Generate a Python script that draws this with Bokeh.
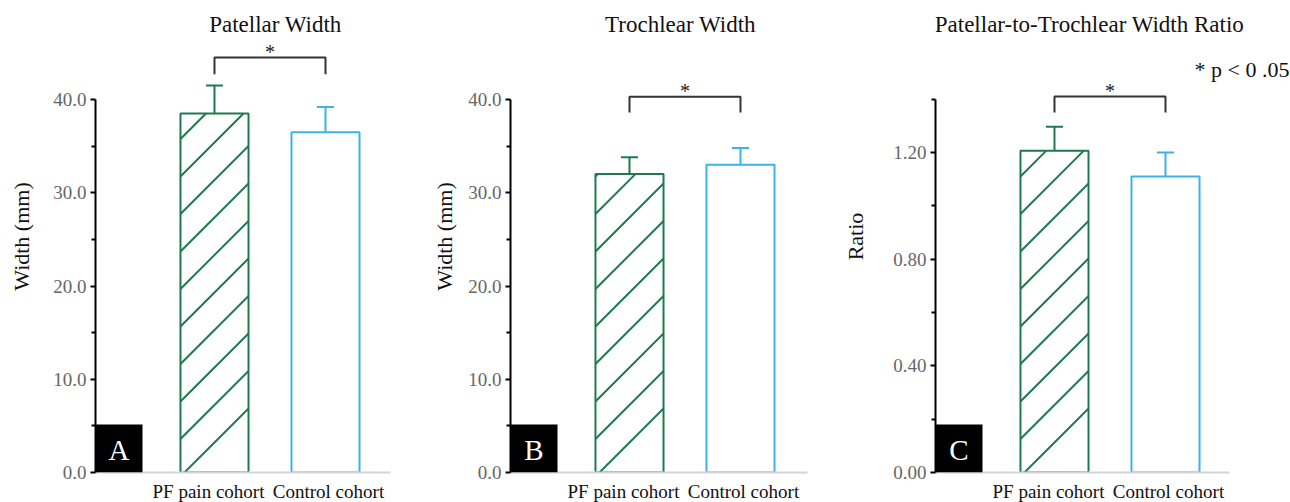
from bokeh.plotting import figure
from bokeh.layouts import row
from bokeh.models import (Range1d, FixedTicker, PrintfTickFormatter, Whisker, TeeHead,
                          Label, BoxAnnotation, ColumnDataSource)
from bokeh.embed import file_html
from bokeh.resources import INLINE
from bokeh.core.properties import value

# ---------------- data ----------------
categories = ["PF pain cohort", "Control cohort"]
panel_letters = ["A", "B", "C"]
panel_titles = ["Patellar Width", "Trochlear Width", "Patellar-to-Trochlear Width Ratio"]
y_labels = ["Width (mm)", "Width (mm)", "Ratio"]

patellar_mean = [38.5, 36.5]
patellar_err = [3.0, 2.7]
trochlear_mean = [32.0, 33.0]
trochlear_err = [1.8, 1.8]
ratio_mean = [1.207, 1.11]
ratio_err = [0.09, 0.09]

bracket_top = [44.5, 40.3, 1.41]
bracket_drop = [42.7, 38.6, 1.35]

y_major = [[0, 10, 20, 30, 40], [0, 10, 20, 30, 40], [0, 0.4, 0.8, 1.2]]
y_minor = [[5, 15, 25, 35], [5, 15, 25, 35], [0.2, 0.6, 1.0, 1.4]]
y_axis_max = [40, 40, 1.4]
y_view_max = [50.62, 50.62, 1.770]
y_fmt = ["%.1f", "%.1f", "%.2f"]
note_text = "* p < 0 .05"

# ---------------- style ----------------
GREEN = "#1e7a4c"
BLUE = "#3bb3e8"
FONT = "Liberation Serif"
bar_colors = [GREEN, BLUE]
bar_hatched = [True, False]
HATCH_GAP = 37.5     # px between hatch lines (vertical)
HATCH_C0 = -4.0      # px offset of first hatch line
BAR_W = 0.613

# per panel: (left border, frame width, title centre from axis, y label standoff, baseline px)
layouts = [(95, 330, 180, 16, 295), (85, 330, 170, 8, 297), (93, 357, 154, 22, 294)]
X0 = -0.072
UNIT = 111.0
FRAME_H = 472
means_all = [patellar_mean, trochlear_mean, ratio_mean]
errs_all = [patellar_err, trochlear_err, ratio_err]


def hatch_segments(xc, top, ky):
    """45-degree hatch lines clipped to a bar (pattern geometry in pixels -> data)."""
    W = BAR_W * UNIT
    H = top * ky
    x0s, y0s, x1s, y1s = [], [], [], []
    c = HATCH_C0
    while c < H:
        a = max(0.0, -c)
        b = min(W, H - c)
        if b > a:
            xl = xc - BAR_W / 2
            x0s.append(xl + a / UNIT); y0s.append((a + c) / ky)
            x1s.append(xl + b / UNIT); y1s.append((b + c) / ky)
        c += HATCH_GAP
    return x0s, y0s, x1s, y1s


plots = []
for i in range(3):
    lb, fw, tcx, lstand, base_px = layouts[i]
    means = means_all[i]
    errs = errs_all[i]
    xs = [1, 2]
    label_pos = [0.946, 2.027]
    ky = FRAME_H / y_view_max[i]
    p = figure(frame_width=fw, frame_height=FRAME_H,
               x_range=Range1d(X0, X0 + fw / UNIT),
               y_range=Range1d(0, y_view_max[i]), output_backend="svg",
               toolbar_location=None, min_border_left=lb, min_border_right=0,
               min_border_top=0, min_border_bottom=30)
    p.outline_line_color = None
    p.grid.visible = False
    p.background_fill_color = "white"
    p.border_fill_color = "white"

    # hatch lines for the hatched (PF pain) bar
    hx0, hy0, hx1, hy1 = [], [], [], []
    for j in range(2):
        if bar_hatched[j]:
            a, b, c, d = hatch_segments(xs[j], means[j], ky)
            hx0 += a; hy0 += b; hx1 += c; hy1 += d
    p.segment(x0=hx0, y0=hy0, x1=hx1, y1=hy1, line_color=GREEN, line_width=2)

    src = ColumnDataSource(dict(x=xs, top=means, color=bar_colors))
    p.vbar(x="x", top="top", width=BAR_W, source=src, fill_color=None,
           line_color="color", line_width=2)

    for j in range(2):
        wsrc = ColumnDataSource(dict(base=[xs[j]], lower=[means[j]], upper=[means[j] + errs[j]]))
        wh = Whisker(source=wsrc, base="base", upper="upper", lower="lower",
                     line_color=bar_colors[j], line_width=2,
                     upper_head=TeeHead(size=17, line_color=bar_colors[j], line_width=2),
                     lower_head=None)
        p.add_layout(wh)

    # significance bracket
    p.multi_line(xs=[[1, 1, 2, 2]],
                 ys=[[bracket_drop[i], bracket_top[i], bracket_top[i], bracket_drop[i]]],
                 line_color="#333333", line_width=2)
    p.text(x=[1.5], y=[bracket_top[i]], text=["*"], text_align="center",
           text_baseline="bottom", text_font=value(FONT), text_font_size="20px",
           text_color="#222222", y_offset=5)

    # axes
    ya = p.yaxis[0]
    ya.ticker = FixedTicker(ticks=y_major[i], minor_ticks=y_minor[i])
    ya.formatter = PrintfTickFormatter(format=y_fmt[i])
    ya.bounds = (0, y_axis_max[i])
    ya.axis_line_color = "black"
    ya.axis_line_width = 2
    ya.major_tick_line_color = "black"
    ya.major_tick_line_width = 2
    ya.major_tick_out = 5
    ya.major_tick_in = 0
    ya.minor_tick_line_color = "black"
    ya.minor_tick_line_width = 2
    ya.minor_tick_out = 4
    ya.minor_tick_in = 0
    ya.major_label_text_font = FONT
    ya.major_label_text_font_size = "19px"
    ya.major_label_text_color = "#666666"
    ya.major_label_standoff = 4
    ya.axis_label = y_labels[i]
    ya.axis_label_text_font = FONT
    ya.axis_label_text_font_size = "22px"
    ya.axis_label_text_font_style = "normal"
    ya.axis_label_text_color = "#111111"
    ya.axis_label_standoff = lstand

    xa = p.xaxis[0]
    xa.ticker = FixedTicker(ticks=label_pos)
    xa.major_label_overrides = {label_pos[k]: categories[k] for k in range(2)}
    xa.bounds = (X0, X0 + base_px / UNIT)
    xa.axis_line_color = "#d4d4d4"
    xa.axis_line_width = 2
    xa.major_tick_line_color = None
    xa.minor_tick_line_color = None
    xa.major_tick_out = 0
    xa.major_label_text_font = FONT
    xa.major_label_text_font_size = "19px"
    xa.major_label_text_color = "#111111"
    xa.major_label_standoff = 8

    # title
    p.add_layout(Label(x=tcx, y=448, x_units="screen", y_units="screen", text=panel_titles[i],
                       text_align="center", text_baseline="alphabetic", text_font=FONT,
                       text_font_size="23px", text_color="#111111"))
    # panel letter box
    p.add_layout(BoxAnnotation(left=0, right=47, bottom=0, top=48, left_units="screen",
                               right_units="screen", bottom_units="screen", top_units="screen",
                               fill_color="black", fill_alpha=1.0, line_color=None))
    p.add_layout(Label(x=23.5, y=23, x_units="screen", y_units="screen", text=panel_letters[i],
                       text_align="center", text_baseline="middle", text_font=FONT,
                       text_font_size="29px", text_color="white"))
    if i == 2:
        p.add_layout(Label(x=fw - 3, y=403, x_units="screen", y_units="screen", text=note_text,
                           text_align="right", text_baseline="middle", text_font=FONT,
                           text_font_size="22px", text_color="#111111"))
    plots.append(p)

layout = row(*plots, spacing=0)
open("out.html", "w").write(file_html(layout, INLINE))
